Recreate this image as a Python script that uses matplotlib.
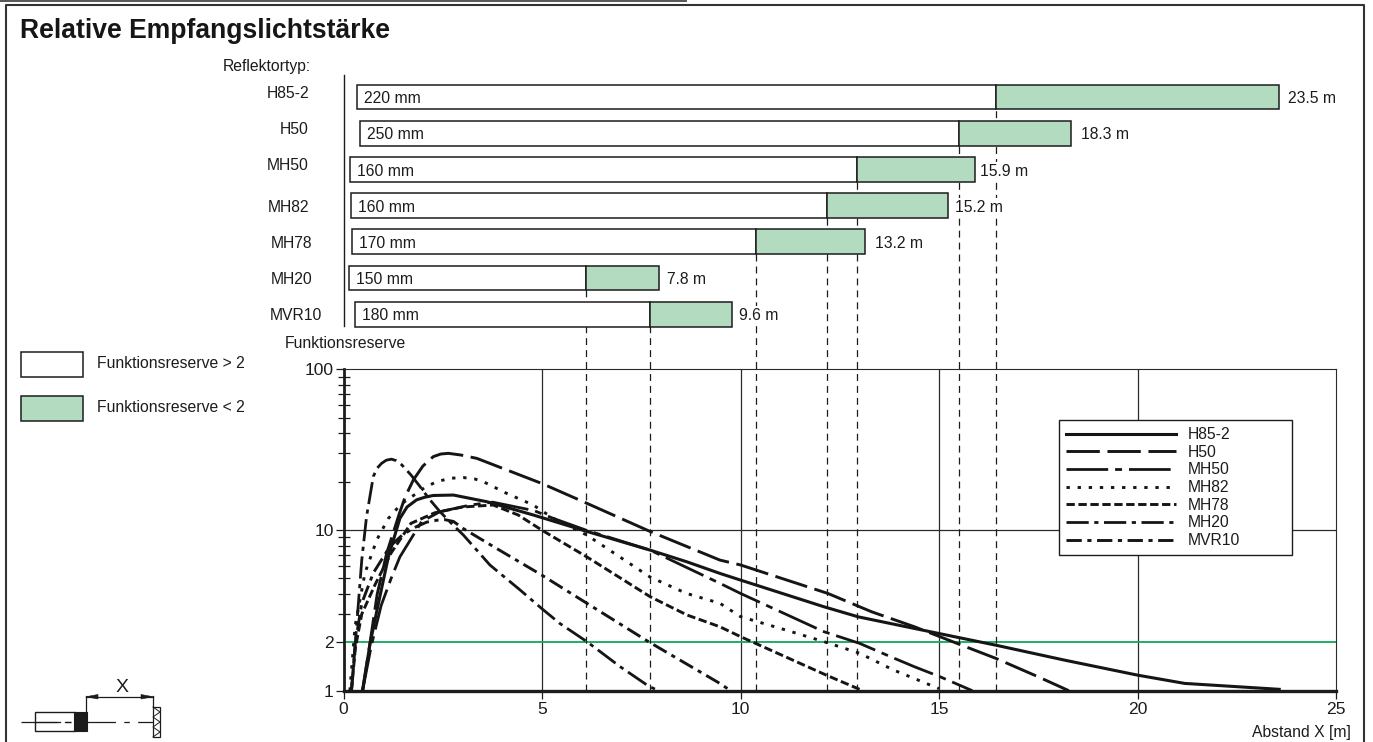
"""Relative Empfangslichtstaerke: reflector range bars above a log plot of Funktionsreserve vs distance."""
import numpy as np
import matplotlib
matplotlib.use("Agg")
import matplotlib.pyplot as plt
from matplotlib.patches import Rectangle, Polygon
from matplotlib.ticker import FixedLocator, NullFormatter

plt.rcParams["font.family"] = ["Liberation Sans", "DejaVu Sans"]
plt.rcParams["lines.scale_dashes"] = False

W, H = 1373, 742
INK = "#1c1c1c"
GREEN = "#b2dbbf"
LINE_GREEN = "#12a55c"
FS = 11.3

# reflector table
reflectors = ["H85-2", "H50", "MH50", "MH82", "MH78", "MH20", "MVR10"]
bar_start = [0.33, 0.42, 0.16, 0.18, 0.21, 0.14, 0.29]
bar_split = [16.43, 15.51, 12.94, 12.17, 10.39, 6.11, 7.72]
bar_end = [23.56, 18.32, 15.90, 15.22, 13.14, 7.95, 9.79]
start_labels = ["220 mm", "250 mm", "160 mm", "160 mm", "170 mm", "150 mm", "180 mm"]
end_labels = ["23.5 m", "18.3 m", "15.9 m", "15.2 m", "13.2 m", "7.8 m", "9.6 m"]

# curves
h85_x = [0.48, 0.67, 0.88, 1.13, 1.42, 1.6, 1.84, 2.05, 2.26, 2.77, 3.61, 4.78, 6.13, 7.72, 8.64, 9.48, 10, 12.1, 12.97, 14.38, 16.43, 18.16, 20, 21.19, 23.57]
h85_y = [1, 1.97, 3.5, 6.8, 11.8, 13.9, 15.4, 16.0, 16.4, 16.5, 15, 12.4, 9.8, 7.5, 6.35, 5.37, 4.88, 3.33, 2.88, 2.44, 1.92, 1.55, 1.25, 1.11, 1.02]
h50_x = [0.48, 0.67, 0.85, 1.09, 1.4, 1.55, 1.76, 2.0, 2.26, 2.45, 2.64, 2.95, 3.36, 4.99, 6.04, 7.72, 9.48, 10, 12.2, 13.3, 14.38, 15.57, 16.43, 17.5, 18.27]
h50_y = [1, 2, 4, 7.2, 12.5, 16, 20.5, 25, 28.6, 29.7, 30, 29.3, 27.9, 19.5, 15, 9.8, 6.5, 6.06, 4.03, 3.1, 2.5, 1.92, 1.59, 1.22, 1]
mh50_x = [0.48, 0.7, 0.95, 1.2, 1.42, 1.97, 2.43, 2.85, 3.19, 3.76, 4.8, 5.29, 6.1, 7.72, 9.48, 10, 12.1, 13, 13.85, 14.38, 15.03, 15.84]
mh50_y = [1, 1.9, 3.4, 5, 6.8, 11.3, 13, 13.7, 14.3, 14.9, 13.2, 11.8, 10, 7.5, 4.66, 4.03, 2.33, 1.97, 1.6, 1.41, 1.22, 1]
mh82_x = [0.16, 0.29, 0.54, 0.84, 1.13, 1.45, 1.84, 2.05, 2.35, 2.7, 3.02, 3.3, 3.52, 4.11, 4.78, 5.29, 6.13, 7.72, 8.64, 9.48, 10, 11.13, 12.1, 13, 13.84, 15]
mh82_y = [1, 2.5, 5.4, 8.7, 11.8, 14.5, 16.9, 18.4, 20, 21, 21.2, 20.8, 20, 16.9, 14.3, 11.8, 9.3, 5.1, 4.03, 3.5, 2.89, 2.39, 2.02, 1.71, 1.35, 1.03]
mh78_x = [0.2, 0.3, 0.46, 0.8, 1.2, 1.7, 2.3, 3, 3.77, 4.4, 4.99, 6.13, 7.72, 8.65, 9.48, 10, 10.38, 12.16, 13.08]
mh78_y = [1, 1.85, 3, 4.6, 7.2, 11, 12.8, 13.9, 14.3, 12.4, 10, 6.8, 3.85, 2.96, 2.5, 2.17, 1.97, 1.25, 1]
mh20_x = [0.2, 0.29, 0.46, 0.58, 0.75, 0.85, 0.96, 1.08, 1.21, 1.33, 1.47, 1.7, 1.93, 2.15, 2.43, 2.75, 3.02, 3.69, 4.45, 4.99, 5.45, 6.13, 6.97, 7.68, 7.93]
mh20_y = [1, 1.88, 6.5, 12.1, 21.5, 24.3, 26, 27.2, 27.6, 27, 25.4, 22, 18.6, 15.7, 13, 10.8, 9.3, 6.05, 4.23, 3.25, 2.62, 2.02, 1.41, 1.07, 1]
mvr10_x = [0.2, 0.3, 0.46, 0.75, 1.17, 1.5, 1.84, 2.1, 2.35, 2.55, 2.77, 3.02, 3.77, 4.99, 6.13, 7.68, 9.48, 9.75]
mvr10_y = [1, 2, 3.5, 5.4, 7.9, 9.4, 10.5, 11.2, 11.5, 11.6, 11.3, 10.2, 7.9, 5.25, 3.5, 2.02, 1.11, 1]

curves = [
    ("H85-2", h85_x, h85_y, "-", 2.2),
    ("H50", h50_x, h50_y, (0, (24, 5.5)), 2.1),
    ("MH50", mh50_x, mh50_y, (0, (30, 5, 5, 5)), 2.0),
    ("MH82", mh82_x, mh82_y, (0, (2.4, 5.6)), 2.1),
    ("MH78", mh78_x, mh78_y, (0, (6, 2.6)), 2.1),
    ("MH20", mh20_x, mh20_y, (0, (16, 4, 3, 4)), 2.0),
    ("MVR10", mvr10_x, mvr10_y, (0, (11, 4, 3, 4)), 2.1),
]

X0, X1 = 343.5, 1336.0
Y100, Y1 = 369.3, 690.7
ROW0, ROW_STEP = 97.0, 36.2
BAR_TOP, BAR_BOTTOM = 75.0, 330.0


def rect(x0, y0, x1, y1):
    return [x0 / W, 1 - y1 / H, (x1 - x0) / W, (y1 - y0) / H]


fig = plt.figure(figsize=(W / 100, H / 100), dpi=100, facecolor="white")

# log plot
ax = fig.add_axes(rect(X0, Y100, X1, Y1))
ax.set_xlim(0, 25)
ax.set_yscale("log")
ax.set_ylim(1, 100)
ax.xaxis.set_major_locator(FixedLocator([0, 5, 10, 15, 20, 25]))
ax.yaxis.set_major_locator(FixedLocator([1, 2, 10, 100]))
ax.yaxis.set_major_formatter(plt.FuncFormatter(lambda v, p: f"{v:g}"))
ax.yaxis.set_minor_locator(FixedLocator([3, 4, 5, 6, 7, 8, 9, 20, 30, 40, 50, 60, 70, 80, 90]))
ax.yaxis.set_minor_formatter(NullFormatter())
ax.tick_params(axis="x", which="major", length=6, width=0.9, labelsize=12.6, color=INK, labelcolor=INK, pad=2)
ax.tick_params(axis="y", which="major", length=6, width=0.9, labelsize=12.6, color=INK, labelcolor=INK, pad=1)
ax.tick_params(axis="y", which="minor", direction="inout", length=8, width=0.9, color=INK)
for x in [5, 10, 15, 20]:
    ax.axvline(x, color="#2a2a2a", lw=0.9, zorder=1)
ax.axhline(10, color="#2a2a2a", lw=0.9, zorder=1)
ax.axhline(2, color=LINE_GREEN, lw=1.3, zorder=1.5)
for s in ["top", "right"]:
    ax.spines[s].set_linewidth(0.8)
    ax.spines[s].set_color("#2a2a2a")
ax.spines["left"].set_linewidth(2.0)
ax.spines["bottom"].set_linewidth(2.4)
ax.spines["left"].set_color(INK)
ax.spines["bottom"].set_color(INK)

# dashed drop lines from each bar's split down to the axis
for i, sp in enumerate(bar_split):
    top_px = ROW0 + ROW_STEP * i + 12
    ax.plot([sp, sp], [0, (Y1 - top_px) / (Y1 - Y100)], transform=ax.get_xaxis_transform(),
            color=INK, lw=0.9, ls=(0, (5, 3.6)), clip_on=False, zorder=2)

handles = []
for name, cx, cy, ls, lw in curves:
    ln, = ax.plot(cx, cy, color="#151515", lw=lw, ls=ls, label=name, zorder=3,
                  solid_joinstyle="round", dash_joinstyle="round")
    handles.append(ln)
leg_w = (1292 - 1059) / (X1 - X0)
leg_h = 133 / (Y1 - Y100)
leg_top = (Y1 - 420) / (Y1 - Y100)
leg = ax.legend(handles=handles, loc="upper left", fontsize=FS,
                bbox_to_anchor=((1059 - X0) / (X1 - X0), leg_top - leg_h, leg_w, leg_h), mode="expand",
                borderaxespad=0, fancybox=False, framealpha=1, edgecolor=INK, handlelength=7.0,
                handletextpad=0.75, labelspacing=0.17, borderpad=0.45, labelcolor=INK)
leg.get_frame().set_linewidth(1.0)
leg.set_zorder(5)

# range bars, same x scale as the plot
bx = fig.add_axes(rect(X0, BAR_TOP, X1, BAR_BOTTOM), zorder=2)
bx.patch.set_alpha(0)
bx.set_xlim(0, 25)
bx.set_ylim((BAR_BOTTOM - ROW0) / ROW_STEP, (BAR_TOP - ROW0) / ROW_STEP)
bx.set_xticks([])
bx.set_yticks([])
for s in ["top", "right", "bottom"]:
    bx.spines[s].set_visible(False)
bx.spines["left"].set_bounds((326 - ROW0) / ROW_STEP, (BAR_TOP - ROW0) / ROW_STEP)
bx.spines["left"].set_linewidth(1.0)
bx.spines["left"].set_color(INK)
rows = np.arange(len(reflectors))
split = np.array(bar_split)
bx.barh(rows, split - np.array(bar_start), left=bar_start, height=0.68, color="white", edgecolor=INK, lw=1.1)
bx.barh(rows, np.array(bar_end) - split, left=split, height=0.68, color=GREEN, edgecolor=INK, lw=1.1)
end_pad = [9, 10, 5, 7, 10, 8, 7]
for i in rows:
    bx.annotate(start_labels[i], (bar_start[i], i), xytext=(5, -1.2), textcoords="offset points",
                va="center", ha="left", fontsize=FS, color=INK)
    bx.annotate(end_labels[i], (bar_end[i], i), xytext=(end_pad[i] * 0.72, -1.2), textcoords="offset points",
                va="center", ha="left", fontsize=FS, color=INK,
                bbox=dict(fc="white", ec="none", pad=1.5))

# page furniture in pixel coordinates
pg = fig.add_axes([0, 0, 1, 1], zorder=3)
pg.set_xlim(0, W)
pg.set_ylim(H, 0)
pg.axis("off")
pg.patch.set_alpha(0)
pg.plot([6, 6, 1364, 1364], [H + 5, 5, 5, H + 5], color="#333333", lw=1.5, clip_on=False)
pg.plot([0, 686], [0.8, 0.8], color="#555555", lw=1.4)
pg.text(20, 31, "Relative Empfangslichtstärke", fontsize=19.1, fontweight="bold", va="center", color="#161616")
pg.text(311, 66, "Reflektortyp:", fontsize=FS, ha="right", va="center", color=INK)
label_right = [309, 309, 309, 309, 312, 312, 322]
label_y = [94, 130, 166, 207, 244, 280, 316]
for name, r, y in zip(reflectors, label_right, label_y):
    pg.text(r, y, name, fontsize=FS, ha="right", va="center", color=INK)
pg.text(285, 344, "Funktionsreserve", fontsize=FS, va="center", color=INK)
pg.text(1351, 732, "Abstand X [m]", fontsize=FS, ha="right", va="center", color=INK)

pg.add_patch(Rectangle((20.5, 352), 62.5, 25, fc="white", ec=INK, lw=1.1))
pg.add_patch(Rectangle((20.5, 396), 62.5, 25, fc=GREEN, ec=INK, lw=1.1))
pg.text(96.7, 364, "Funktionsreserve > 2", fontsize=FS, va="center", color=INK)
pg.text(96.7, 408, "Funktionsreserve < 2", fontsize=FS, va="center", color=INK)

# sensor sketch
pg.plot([21, 153], [722, 722], color=INK, lw=0.9, ls=(0, (26, 6, 4, 6)))
pg.add_patch(Rectangle((35, 712), 40, 19, fc="white", ec=INK, lw=1.0, zorder=1))
pg.plot([35, 60], [722, 722], color=INK, lw=0.9, zorder=2)
pg.plot([65, 70], [722, 722], color=INK, lw=0.9, zorder=2)
pg.add_patch(Rectangle((74, 712), 13, 19, fc="#1c1c1c", ec=INK, lw=0.8, zorder=2))
pg.plot([86, 86], [696, 712], color=INK, lw=0.9)
pg.plot([153, 153], [696, 707], color=INK, lw=0.9)
pg.plot([86, 153], [696.7, 696.7], color=INK, lw=0.9)
pg.add_patch(Polygon([[86, 696.7], [98, 694.5], [98, 699]], fc=INK, ec=INK, lw=0.4))
pg.add_patch(Polygon([[153, 696.7], [141, 694.5], [141, 699]], fc=INK, ec=INK, lw=0.4))
pg.text(122, 687, "X", fontsize=14, ha="center", va="center", color=INK)
pg.add_patch(Rectangle((153, 707), 7, 30, fc="white", ec=INK, lw=0.9))
pg.plot([153, 160, 153, 160, 153, 160, 153], [707, 712, 717, 722, 727, 732, 737], color=INK, lw=0.7)

fig.savefig("out.png", dpi=100)
